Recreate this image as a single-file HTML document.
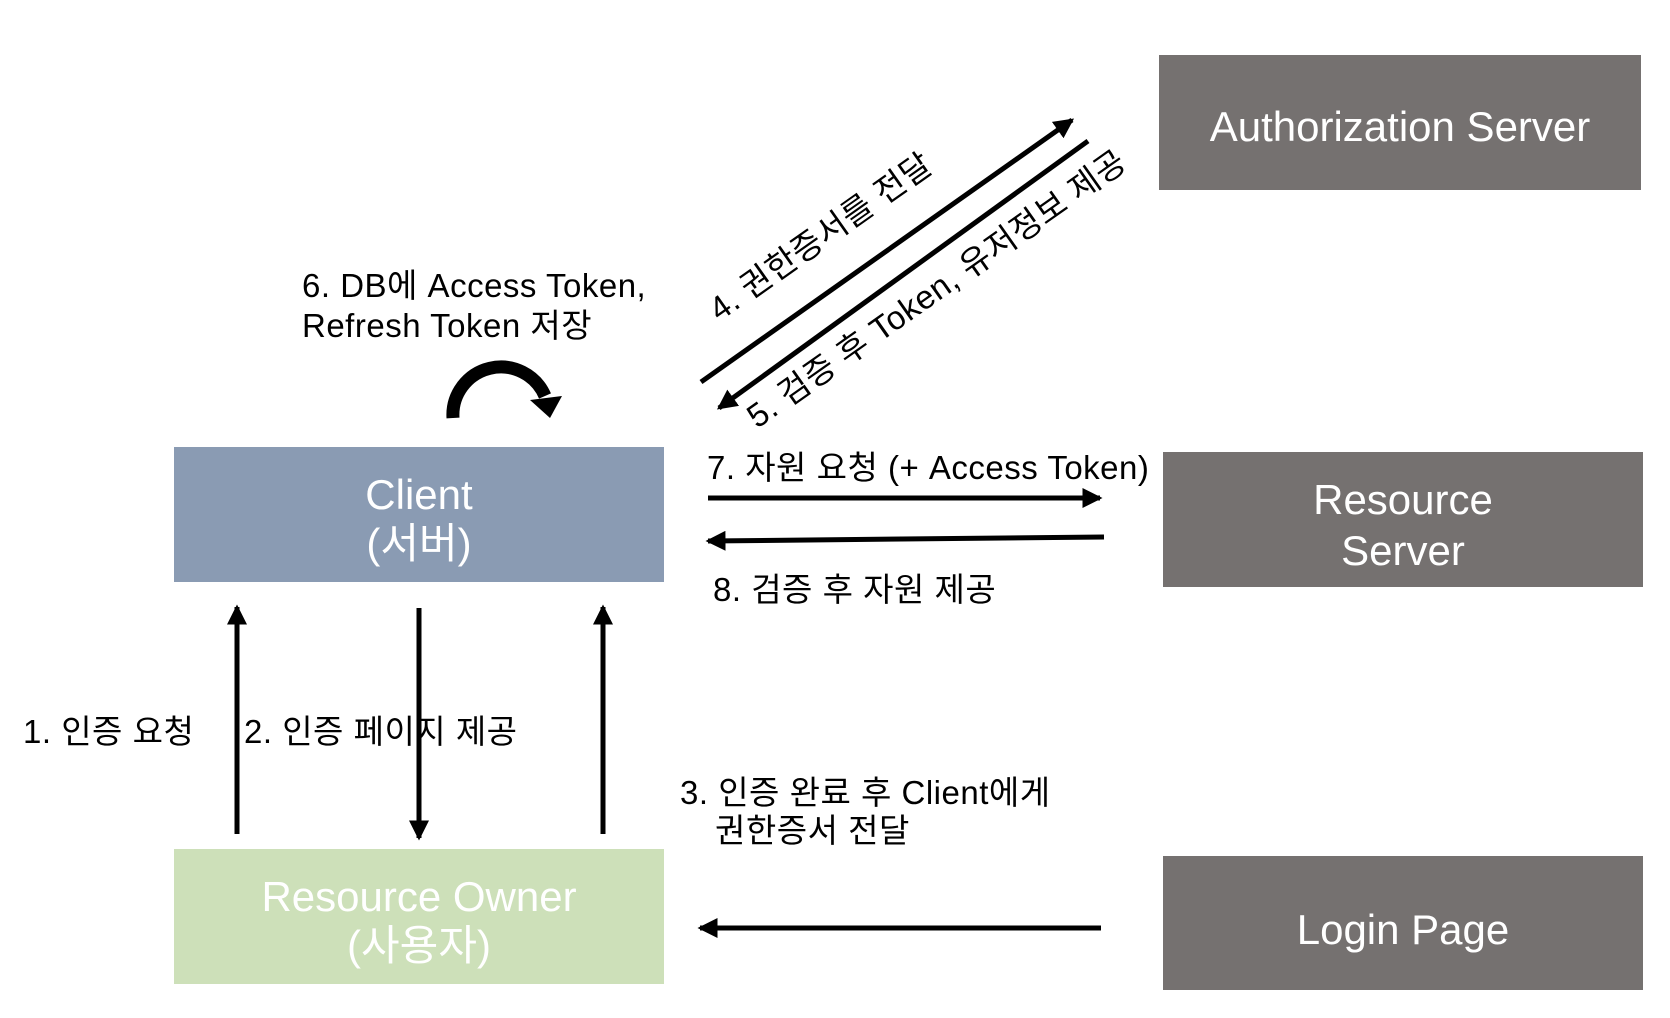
<!DOCTYPE html>
<html><head><meta charset="utf-8"><style>
html,body{margin:0;padding:0;background:#fff}
svg{display:block}
text{font-family:"Liberation Sans","Noto Sans CJK KR",sans-serif}
</style></head><body>
<svg width="1670" height="1018" viewBox="0 0 1670 1018" xmlns="http://www.w3.org/2000/svg">
<defs>
<marker id="ah" markerWidth="4" markerHeight="4" refX="3.5" refY="2" orient="auto" markerUnits="strokeWidth">
<path d="M0,0 L4,2 L0,4 Z" fill="#000"/>
</marker>
</defs>
<rect width="1670" height="1018" fill="#fff"/>
<rect x="1159" y="55" width="482" height="135" fill="#757170"/>
<text x="1400" y="141" font-size="42" fill="#fff" text-anchor="middle">Authorization Server</text>
<rect x="1163" y="452" width="480" height="135" fill="#757170"/>
<text x="1403" y="514" font-size="42" fill="#fff" text-anchor="middle">Resource</text>
<text x="1403" y="565" font-size="42" fill="#fff" text-anchor="middle">Server</text>
<rect x="1163" y="856" width="480" height="134" fill="#757170"/>
<text x="1403" y="944" font-size="42" fill="#fff" text-anchor="middle">Login Page</text>
<rect x="174" y="447" width="490" height="135" fill="#8a9bb3"/>
<text x="419" y="509" font-size="42" fill="#fff" text-anchor="middle">Client</text>
<text x="419" y="558" font-size="42" fill="#fff" text-anchor="middle">(서버)</text>
<rect x="174" y="849" width="490" height="135" fill="#cde0b9"/>
<text x="419" y="911" font-size="42" fill="#fff" text-anchor="middle">Resource Owner</text>
<text x="419" y="960" font-size="42" fill="#fff" text-anchor="middle">(사용자)</text>
<g stroke="#000" stroke-width="5" fill="none">
<line x1="701" y1="382" x2="1072" y2="120" marker-end="url(#ah)"/>
<line x1="1088" y1="141" x2="719" y2="408" marker-end="url(#ah)"/>
<line x1="708" y1="498" x2="1100" y2="498" marker-end="url(#ah)"/>
<line x1="1104" y1="537" x2="708" y2="541" marker-end="url(#ah)"/>
<line x1="237" y1="834" x2="237" y2="607" marker-end="url(#ah)"/>
<line x1="419" y1="608" x2="419" y2="838" marker-end="url(#ah)"/>
<line x1="603" y1="834" x2="603" y2="607" marker-end="url(#ah)"/>
<line x1="1101" y1="928" x2="700" y2="928" marker-end="url(#ah)"/>
</g>
<path d="M453,418 A48,48 0 0 1 545,396" stroke="#000" stroke-width="13" fill="none"/>
<path d="M530,400 L562,396 L550,418 Z" fill="#000"/>
<g font-size="33" fill="#000" letter-spacing="0.5">
<text x="302" y="297">6. DB에 Access Token,</text>
<text x="302" y="337">Refresh Token 저장</text>
<text x="707" y="479">7. 자원 요청 (+ Access Token)</text>
<text x="713" y="601">8. 검증 후 자원 제공</text>
<text x="23" y="743">1. 인증 요청</text>
<text x="244" y="743">2. 인증 페이지 제공</text>
<text x="680" y="804">3. 인증 완료 후 Client에게</text>
<text x="715" y="842">권한증서 전달</text>
<text transform="translate(827,246) rotate(-35.2)" text-anchor="middle">4. 권한증서를 전달</text>
<text transform="translate(943,298) rotate(-35.2)" text-anchor="middle">5. 검증 후 Token, 유저정보 제공</text>
</g>
</svg>
</body></html>
